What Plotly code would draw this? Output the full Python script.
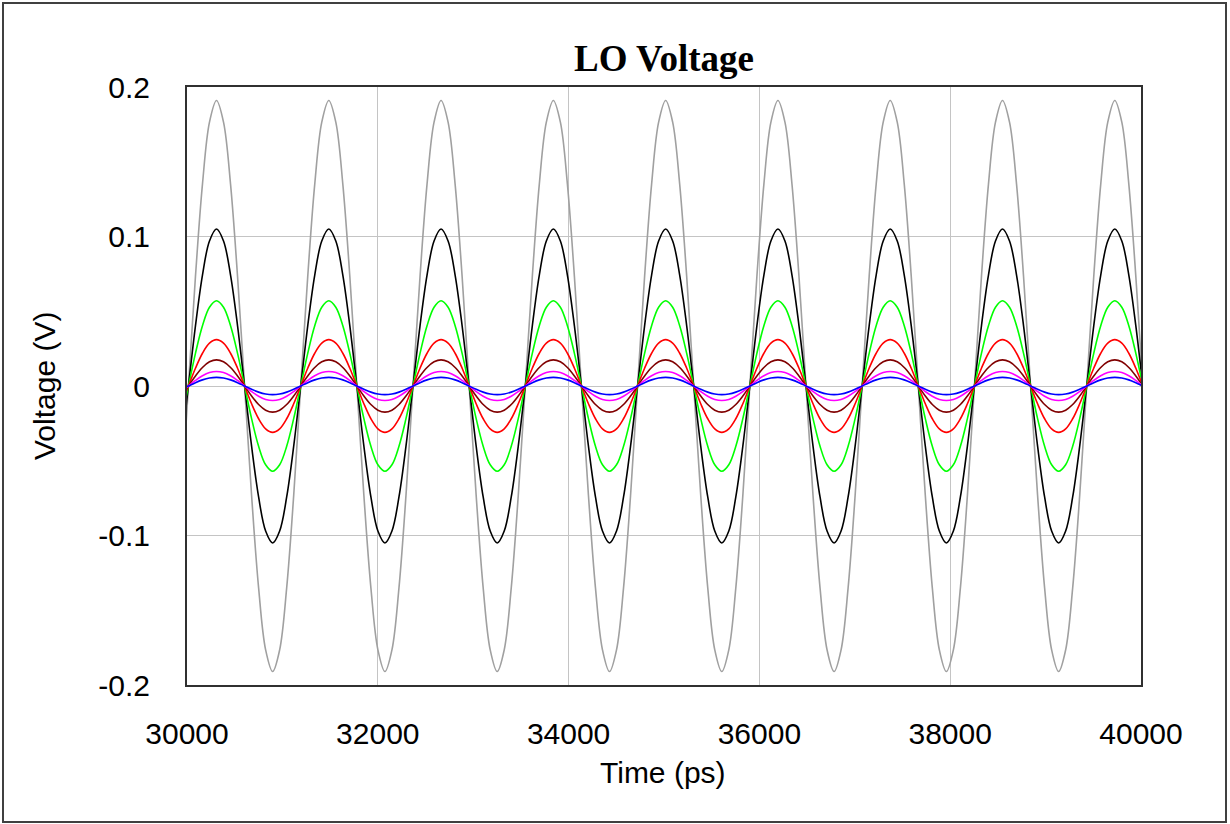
import plotly.graph_objects as go

# ---- data ----
# rising zero-crossing times (ps) of each LO cycle
cycle_starts_ps = [28838, 30015, 31192, 32369, 33546, 34723, 35900, 37077, 38254, 39431, 40608]
# normalized waveform of one cycle, 16 samples per cycle (read shape: sinusoidal)
cycle_shape = [0.0, 0.383, 0.707, 0.924, 1.0, 0.924, 0.707, 0.383,
               0.0, -0.383, -0.707, -0.924, -1.0, -0.924, -0.707, -0.383]
# peak amplitudes (V) of the swept LO traces
series_names = ["trace 1", "trace 2", "trace 3", "trace 4", "trace 5", "trace 6", "trace 7"]
series_amplitudes = [0.191, 0.105, 0.057, 0.031, 0.0175, 0.0097, 0.0058]
series_colors = ["#a0a0a0", "#000000", "#00ff00", "#ff0000", "#800000", "#ff00ff", "#0000ff"]

x_ticks = [30000, 32000, 34000, 36000, 38000, 40000]
y_ticks = [-0.2, -0.1, 0, 0.1, 0.2]
y_tick_labels = ["-0.2", "-0.1", "0", "0.1", "0.2"]

# ---- build sample points from the read cycles ----
times = []
shape_vals = []
n = len(cycle_shape)
for a, b in zip(cycle_starts_ps[:-1], cycle_starts_ps[1:]):
    for k in range(n):
        times.append(a + (b - a) * k / n)
        shape_vals.append(cycle_shape[k])
times.append(cycle_starts_ps[-1])
shape_vals.append(cycle_shape[0])

fig = go.Figure()
for name, amp, col in zip(series_names, series_amplitudes, series_colors):
    fig.add_trace(go.Scatter(
        x=times, y=[amp * v for v in shape_vals], mode="lines", name=name,
        line=dict(color=col, width=1.6, shape="spline", smoothing=1.0),
        showlegend=False, hoverinfo="x+y"))

W, H = 1230, 824
L, R, T, B = 187, 89, 87, 139
pw, ph = W - L - R, H - T - B

def px_x(p):
    return (p - L) / pw

def px_y(p):
    return (H - B - p) / ph

SANS = "Liberation Sans, Arial, sans-serif"

fig.update_layout(
    width=W, height=H,
    margin=dict(l=L, r=R, t=T, b=B, pad=0),
    paper_bgcolor="white", plot_bgcolor="white",
    font=dict(family=SANS, size=30, color="black"),
    title=dict(text="<b>LO Voltage</b>", x=px_x(664), xref="paper", xanchor="center",
               y=1 - 58 / H, yref="container", yanchor="middle",
               font=dict(family="Liberation Serif, Times New Roman, serif", size=37, color="black")),
    xaxis=dict(range=[30000, 40000], tickvals=x_ticks, ticktext=[str(v) for v in x_ticks],
               showgrid=True, gridcolor="#c4c4c4", gridwidth=1, zeroline=False,
               showline=True, linecolor="#303030", linewidth=2, mirror=True,
               ticks="", ticklabelstandoff=21, automargin=False),
    yaxis=dict(range=[-0.2, 0.2], tickvals=y_ticks, ticktext=y_tick_labels,
               showgrid=True, gridcolor="#c4c4c4", gridwidth=1, zeroline=False,
               showline=True, linecolor="#303030", linewidth=2, mirror=True,
               ticks="", ticklabelstandoff=29, automargin=False),
    annotations=[
        dict(text="Time (ps)", xref="paper", yref="paper", x=px_x(663), y=px_y(772),
             xanchor="center", yanchor="middle", showarrow=False,
             font=dict(family=SANS, size=30, color="black")),
        dict(text="Voltage (V)", xref="paper", yref="paper", x=px_x(44), y=px_y(386),
             xanchor="center", yanchor="middle", showarrow=False, textangle=-90,
             font=dict(family=SANS, size=30, color="black")),
    ],
    shapes=[
        dict(type="rect", xref="paper", yref="paper",
             x0=px_x(3), x1=px_x(1226), y0=px_y(822), y1=px_y(3),
             line=dict(color="#404040", width=2), fillcolor="rgba(0,0,0,0)", layer="below"),
    ],
)

fig.write_html("out.html",
               config={"displayModeBar": False},
               post_script="document.body.style.margin='0px';document.body.style.overflow='hidden';")
